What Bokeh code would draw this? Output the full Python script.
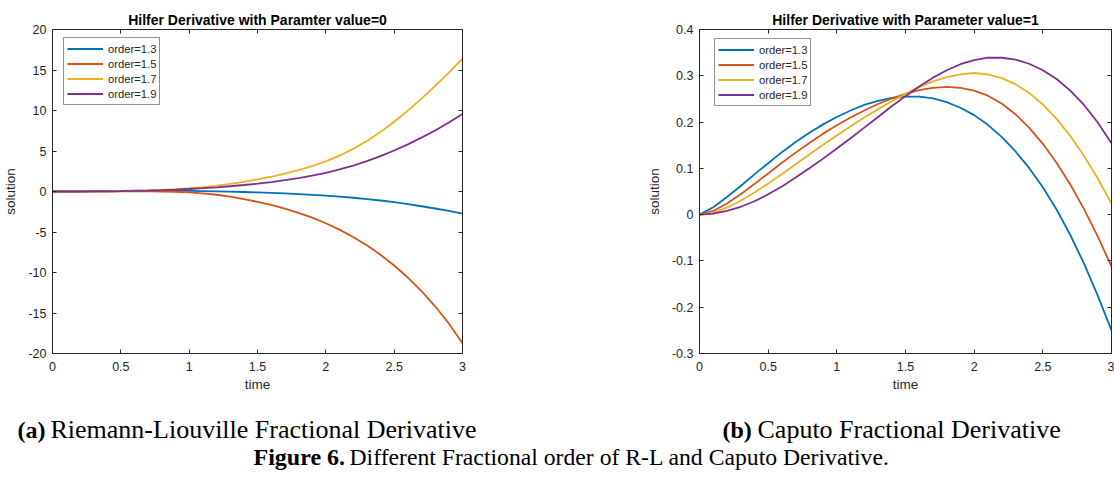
from bokeh.plotting import figure
from bokeh.models import (LinearAxis, Range1d, Legend, LegendItem, Label,
                          FixedTicker, NumeralTickFormatter)
from bokeh.layouts import column, row
from bokeh.embed import file_html
from bokeh.resources import INLINE

# ---------------- data ----------------
time_pts = [0.0, 0.1, 0.2, 0.3, 0.4, 0.5, 0.6, 0.7, 0.8, 0.9, 1.0, 1.1, 1.2, 1.3, 1.4, 1.5,
            1.6, 1.7, 1.8, 1.9, 2.0, 2.1, 2.2, 2.3, 2.4, 2.5, 2.6, 2.7, 2.8, 2.9, 3.0]
orders = ["order=1.3", "order=1.5", "order=1.7", "order=1.9"]

# (a) Riemann-Liouville, parameter value = 0
rl_13 = [0, 0.01, 0.02, 0.04, 0.06, 0.08, 0.10, 0.11, 0.11, 0.10, 0.08, 0.05, 0.02, -0.02, -0.06, -0.11,
         -0.17, -0.24, -0.32, -0.41, -0.51, -0.63, -0.77, -0.93, -1.11, -1.32, -1.56, -1.82, -2.10, -2.40, -2.72]
rl_15 = [0, 0, 0, 0, 0, 0.01, 0.01, 0.01, 0, -0.03, -0.10, -0.22, -0.40, -0.64, -0.93, -1.27,
         -1.66, -2.11, -2.63, -3.23, -3.92, -4.71, -5.61, -6.64, -7.81, -9.13, -10.62, -12.29, -14.17, -16.29, -18.74]
rl_17 = [0, 0, 0.005, 0.015, 0.03, 0.05, 0.08, 0.13, 0.20, 0.29, 0.40, 0.55, 0.73, 0.95, 1.20, 1.49,
         1.82, 2.20, 2.64, 3.14, 3.72, 4.42, 5.26, 6.24, 7.36, 8.61, 9.98, 11.46, 13.03, 14.68, 16.40]
rl_19 = [0, 0, 0, 0.01, 0.02, 0.04, 0.07, 0.11, 0.16, 0.23, 0.31, 0.41, 0.52, 0.65, 0.80, 0.97,
         1.17, 1.40, 1.66, 1.96, 2.31, 2.72, 3.20, 3.75, 4.37, 5.06, 5.82, 6.65, 7.54, 8.53, 9.58]

# (b) Caputo, parameter value = 1
cp_13 = [0, 0.016, 0.038, 0.062, 0.087, 0.111, 0.135, 0.157, 0.177, 0.195, 0.211, 0.225, 0.237, 0.246, 0.252, 0.255,
         0.255, 0.251, 0.243, 0.231, 0.215, 0.194, 0.168, 0.137, 0.101, 0.059, 0.011, -0.044, -0.106, -0.175, -0.250]
cp_15 = [0, 0.008, 0.024, 0.044, 0.066, 0.089, 0.112, 0.134, 0.155, 0.175, 0.193, 0.210, 0.225, 0.239, 0.251, 0.261,
         0.269, 0.274, 0.276, 0.274, 0.268, 0.257, 0.240, 0.217, 0.188, 0.153, 0.112, 0.065, 0.012, -0.047, -0.112]
cp_17 = [0, 0.004, 0.015, 0.030, 0.048, 0.067, 0.088, 0.109, 0.130, 0.151, 0.171, 0.191, 0.210, 0.228, 0.245, 0.261,
         0.276, 0.288, 0.297, 0.303, 0.306, 0.303, 0.295, 0.282, 0.263, 0.238, 0.207, 0.170, 0.127, 0.078, 0.024]
cp_19 = [0, 0.002, 0.008, 0.017, 0.029, 0.044, 0.061, 0.080, 0.100, 0.121, 0.143, 0.165, 0.188, 0.211, 0.234, 0.256,
         0.277, 0.296, 0.312, 0.325, 0.334, 0.339, 0.339, 0.335, 0.326, 0.312, 0.293, 0.268, 0.237, 0.199, 0.154]

x_ticks = [0, 0.5, 1, 1.5, 2, 2.5, 3]
y_ticks_a = [-20, -15, -10, -5, 0, 5, 10, 15, 20]
y_ticks_b = [-0.3, -0.2, -0.1, 0, 0.1, 0.2, 0.3, 0.4]

title_a = "Hilfer Derivative with Paramter value=0"
title_b = "Hilfer Derivative with Parameter value=1"
cap_a_bold, cap_a = "(a)", "Riemann-Liouville Fractional Derivative"
cap_b_bold, cap_b = "(b)", "Caputo Fractional Derivative"
fig_bold, fig_cap = "Figure 6.", "Different Fractional order of R-L and Caputo Derivative."

colors = ["#0072BD", "#D95319", "#EDB120", "#7E2F8E"]
AX = "#262626"
SANS = "Liberation Sans"
SERIF = "Liberation Serif"


def style_axis(ax, ticks, show_labels=True):
    ax.ticker = FixedTicker(ticks=ticks)
    ax.formatter = NumeralTickFormatter(format="0.[0]")
    ax.major_tick_in = 4
    ax.major_tick_out = 0
    ax.minor_tick_line_color = None
    ax.axis_line_color = AX
    ax.major_tick_line_color = AX
    ax.major_label_text_font = SANS
    if show_labels:
        ax.major_label_text_color = AX
        ax.major_label_text_font_size = "12.5px"
    else:
        ax.major_label_text_color = None
        ax.major_label_text_font_size = "1px"
        ax.major_label_standoff = 0


def make_panel(title, y_lo, y_hi, y_ticks, series, bl, br, legend_xy):
    p = figure(width=bl + 412 + br, height=400, x_range=Range1d(0, 3), y_range=Range1d(y_lo, y_hi),
               output_backend="svg", toolbar_location=None,
               min_border_left=bl, min_border_right=br, min_border_top=29, min_border_bottom=47)
    p.grid.visible = False
    p.outline_line_color = None
    style_axis(p.xaxis[0], x_ticks)
    style_axis(p.yaxis[0], y_ticks)
    p.xaxis[0].major_label_standoff = 8
    p.yaxis[0].major_label_standoff = 6
    p.xaxis.axis_label = "time"
    p.yaxis.axis_label = "solution"
    for ax in (p.xaxis[0], p.yaxis[0]):
        ax.axis_label_text_font = SANS
        ax.axis_label_text_font_size = "13.5px"
        ax.axis_label_text_font_style = "normal"
        ax.axis_label_text_color = AX
    p.xaxis[0].axis_label_standoff = 3
    p.yaxis[0].axis_label_standoff = 7

    top = LinearAxis()
    rgt = LinearAxis()
    style_axis(top, x_ticks, False)
    style_axis(rgt, y_ticks, False)
    p.add_layout(top, "above")
    p.add_layout(rgt, "right")

    p.title.text = title
    p.title.text_font = SANS
    p.title.text_font_style = "bold"
    p.title.text_font_size = "14px"
    p.title.text_color = "black"
    p.title.align = "center"
    p.title.standoff = 3

    items = []
    for vals, c, lab in zip(series, colors, orders):
        r = p.line(time_pts, vals, line_color=c, line_width=1.8)
        items.append(LegendItem(label=lab, renderers=[r]))
    leg = Legend(items=items, location=legend_xy, padding=3, spacing=0, margin=0,
                 glyph_width=36, glyph_height=15, label_height=15, label_standoff=5,
                 label_text_font=SANS, label_text_font_size="11.25px", label_text_color=AX,
                 border_line_color=AX, border_line_width=1, background_fill_alpha=1)
    p.add_layout(leg)
    return p


pa = make_panel(title_a, -20, 20, y_ticks_a, [rl_13, rl_15, rl_17, rl_19], 50, 95, (11, 248))
pb = make_panel(title_b, -0.3, 0.4, y_ticks_b, [cp_13, cp_15, cp_17, cp_19], 142, 3, (15, 247))

pc = figure(width=1114, height=77, x_range=Range1d(0, 1114), y_range=Range1d(0, 77),
            x_axis_type=None, y_axis_type=None, output_backend="svg", toolbar_location=None,
            min_border=0)
pc.outline_line_color = None
pc.grid.visible = False


def cap(x, y, txt, size, bold=False):
    pc.add_layout(Label(x=x, y=y, x_units="screen", y_units="screen", text=txt,
                        text_font=SERIF, text_font_size=size, text_color="black",
                        text_font_style="bold" if bold else "normal",
                        text_baseline="alphabetic", text_align="left"))


cap(17, 48, cap_a_bold, "24px", True)
cap(50, 48, cap_a, "26px")
cap(722, 48, cap_b_bold, "24px", True)
cap(757, 48, cap_b, "26px")
cap(253, 21, fig_bold, "24px", True)
cap(349, 21, fig_cap, "23.7px")

layout = column(row(pa, pb), pc)
open("out.html", "w").write(file_html(layout, INLINE))
